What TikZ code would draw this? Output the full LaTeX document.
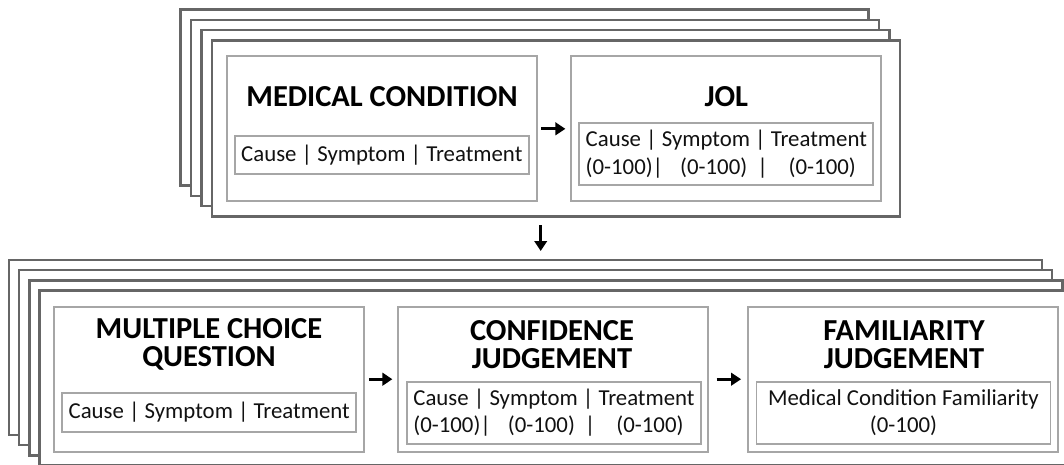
\documentclass[tikz,border=0pt]{standalone}
\usepackage{fontspec}
\setmainfont{Carlito}
\usetikzlibrary{arrows.meta,calc}
\definecolor{stackgray}{HTML}{666666}
\definecolor{boxgray}{HTML}{A6A6A6}
\definecolor{txt}{HTML}{111111}
\tikzset{
 stackcard/.style={draw=stackgray, line width=2.4pt, fill=white},
 panel/.style={draw=boxgray, line width=1.8pt, fill=white, minimum width=310pt, minimum height=145pt, inner sep=0pt},
 fieldbox/.style={draw=boxgray, line width=1.8pt, minimum width=294pt, inner sep=0pt, align=left, font=\fontsize{22.8}{27.3}\selectfont, text=txt},
 ttl/.style={font=\fontsize{30.5}{28}\selectfont\bfseries, align=center, inner sep=0pt},
 flow/.style={-{Triangle[length=10pt,width=12.5pt]}, line width=2.8pt}
}
\begin{document}
\begin{tikzpicture}[x=1pt,y=-1pt]
\useasboundingbox (0,0) rectangle (1064,464);
\clip (0,0) rectangle (1064,464);
% top stack of cards
\foreach \i in {0,...,3}
  \draw[stackcard] (180.5+10.4*\i, 9.3+10.4*\i) rectangle ++(688,176);
% bottom stack of cards
\foreach \i in {0,...,3}
  \draw[stackcard] (9+10.2*\i, 260+10.2*\i) rectangle ++(1033,175);

% top panels
\node[panel] (mc) at (382,128.8) {};
\node[panel] (jol) at (726.3,128.8) {};
\node[ttl] (mct) at (382,97) {MEDICAL CONDITION};
\node[ttl] (jolt) at (726.3,97) {JOL};
\node[fieldbox, minimum height=38pt, align=center] (mcf) at (381.8,155) {Cause | Symptom | Treatment};
\node[fieldbox, minimum height=62pt] (jolf) at (726.3,154.2) {Cause | Symptom | Treatment\\(0-100)|\hspace{17pt}(0-100)\hspace{10pt}|\hspace{21pt}(0-100)};

% bottom panels
\node[panel] (mcq) at (209,379.2) {};
\node[panel] (cj) at (552.8,379.2) {};
\node[panel] (fj) at (903,379.2) {};
\node[ttl] (mcqt) at (209,344.8) {MULTIPLE CHOICE\\QUESTION};
\node[ttl] (cjt) at (552,344.8) {CONFIDENCE\\JUDGEMENT};
\node[ttl] (fjt) at (904,344.8) {FAMILIARITY\\JUDGEMENT};
\node[fieldbox, minimum height=38.4pt, align=center] (mcqf) at (209.2,412.5) {Cause | Symptom | Treatment};
\node[fieldbox, minimum height=62.3pt] (cjf) at (554,412.9) {Cause | Symptom | Treatment\\(0-100)|\hspace{17pt}(0-100)\hspace{10pt}|\hspace{21pt}(0-100)};
\node[fieldbox, minimum height=62.3pt, align=center] (fjf) at (903.5,412.9) {Medical Condition Familiarity\\(0-100)};

% connectors
\draw[flow, shorten <=3.5pt, shorten >=5pt] (mc.east) -- (jol.west);
\coordinate (d1) at (540.7,225);
\coordinate (d2) at (540.7,251);
\draw[flow] (d1) -- (d2);
\draw[flow, shorten <=4pt, shorten >=4.5pt] (mcq.east) -- (cj.west);
\draw[flow, shorten <=8pt, shorten >=6pt] (cj.east) -- (fj.west);
\end{tikzpicture}
\end{document}
